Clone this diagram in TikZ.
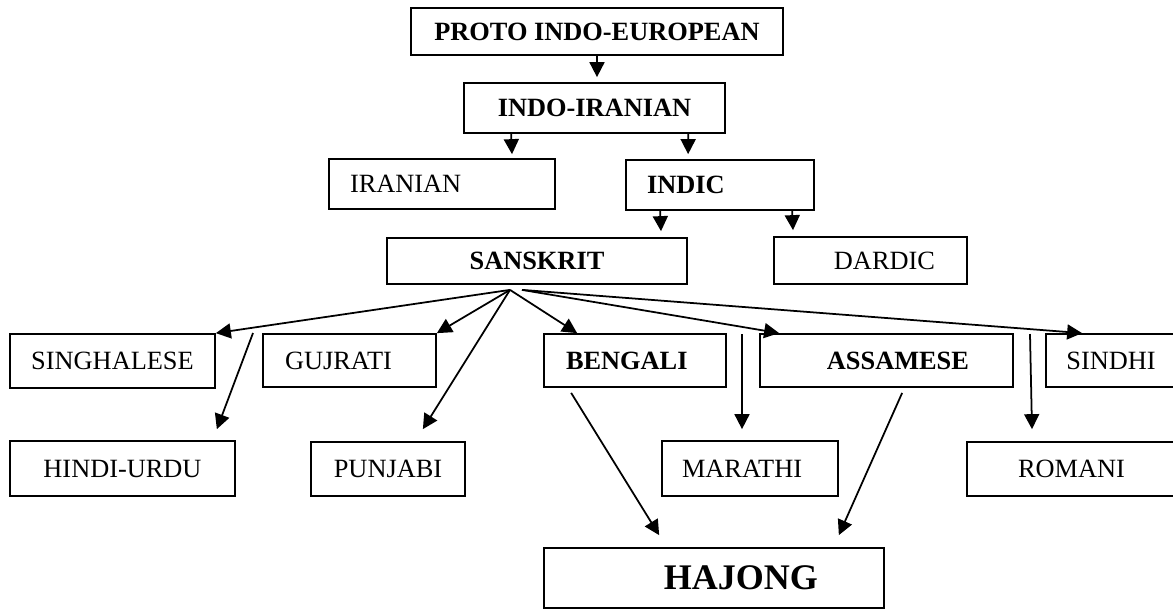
\documentclass[tikz,border=0pt]{standalone}
\usepackage{fontspec}
\setmainfont{Liberation Serif}
\usepackage{tikz}
\usetikzlibrary{arrows.meta,calc}

\begin{document}
\begin{tikzpicture}[x=0.02cm,y=-0.02cm]
\tikzset{lang/.style={draw,line width=1pt,inner sep=0pt,text height=10pt,text depth=0pt,font=\fontsize{15}{18}\selectfont},
  langb/.style={lang,font=\fontsize{15}{18}\selectfont\bfseries},
  arr/.style={-{Triangle[width=0.3cm,length=0.3cm]},line width=1pt}}
\clip (0,0) rectangle (1173,610);
% top of the tree
\node[langb,minimum width=7.44cm,minimum height=0.94cm] (pie) at (597,31.5) {PROTO INDO-EUROPEAN};
\node[langb,minimum width=5.22cm,minimum height=1.0cm] (indoir) at (594.5,108) {INDO-IRANIAN};
\node[lang,minimum width=4.52cm,minimum height=1.0cm,text width=3.68cm,align=left] (iranian) at (442,184) {IRANIAN};
\node[langb,minimum width=3.76cm,minimum height=1.0cm,text width=2.92cm,align=left] (indic) at (720,185) {INDIC};
\node[langb,minimum width=6.0cm,minimum height=0.92cm] (sanskrit) at (537,261) {SANSKRIT};
\node[lang,minimum width=3.86cm,minimum height=0.94cm,text width=2.58cm,align=right] (dardic) at (870.5,260.5) {DARDIC};
% first row of daughters
\node[lang,minimum width=4.1cm,minimum height=1.08cm] (singhalese) at (112.5,361) {SINGHALESE};
\node[lang,minimum width=3.46cm,minimum height=1.06cm,text width=2.58cm,align=left] (gujrati) at (349.5,360.5) {GUJRATI};
\node[langb,minimum width=3.64cm,minimum height=1.06cm,text width=2.76cm,align=left] (bengali) at (635,360.5) {BENGALI};
\node[langb,minimum width=5.06cm,minimum height=1.06cm,text width=3.3cm,align=right] (assamese) at (886.5,360.5) {ASSAMESE};
\node[lang,minimum width=2.6cm,minimum height=1.06cm] (sindhi) at (1111,360.5) {SINDHI};
% second row
\node[lang,minimum width=4.5cm,minimum height=1.1cm] (hindiurdu) at (122.5,468.5) {HINDI-URDU};
\node[lang,minimum width=3.08cm,minimum height=1.08cm] (punjabi) at (388,469) {PUNJABI};
\node[lang,minimum width=3.52cm,minimum height=1.1cm,text width=2.72cm,align=left] (marathi) at (750,468.5) {MARATHI};
\node[lang,minimum width=4.18cm,minimum height=1.08cm] (romani) at (1071.5,469) {ROMANI};
\node[draw,line width=1pt,inner sep=0pt,text height=13.6pt,text depth=0pt,font=\fontsize{20.5}{24}\selectfont\bfseries,minimum width=6.8cm,minimum height=1.2cm,text width=4.16cm,align=right] (hajong) at (714,578) {HAJONG};
% arrows
\draw[arr] (pie.south) -- ($(indoir.north)+(2.5,-5)$);
\draw[arr] ($(indoir.south west)+(48,0)$) -- ($(iranian.north)+(70,-4)$);
\draw[arr] ($(indoir.south west)+(225,0)$) -- ($(indic.north west)+(63,-5)$);
\draw[arr] ($(indic.south west)+(35,0)$) -- ($(sanskrit.north)+(124,-6)$);
\draw[arr] ($(indic.south west)+(167,0)$) -- ($(dardic.north)+(-77.5,-6)$);
\coordinate (fan) at ($(sanskrit.south)+(-27,5)$);
\coordinate (fanr) at ($(sanskrit.south)+(-15,5)$);
\draw[arr] (fan) -- (singhalese.north east);
\draw[arr] (fan) -- (gujrati.north east);
\draw[arr] (fan) -- ($(punjabi.north east)+(-43,-12)$);
\draw[arr] (fan) -- ($(bengali.north west)+(34,0)$);
\draw[arr] (fanr) -- ($(assamese.north west)+(20,0)$);
\draw[arr] (fanr) -- ($(sindhi.north west)+(37,0)$);
\coordinate (hu) at (253,333);
\coordinate (ma) at (742,334);
\coordinate (ro) at (1030,334);
\draw[arr] (hu) -- ($(hindiurdu.north east)+(-19,-11)$);
\draw[arr] (ma) -- ($(ma |- marathi.north)+(0,-11)$);
\draw[arr] (ro) -- ($(ro |- romani.north)+(2,-12)$);
\draw[arr] ($(bengali.south west)+(28,5)$) -- ($(hajong.north west)+(116,-12)$);
\draw[arr] ($(assamese.south west)+(143,5)$) -- ($(hajong.north east)+(-46,-12)$);
\end{tikzpicture}
\end{document}
